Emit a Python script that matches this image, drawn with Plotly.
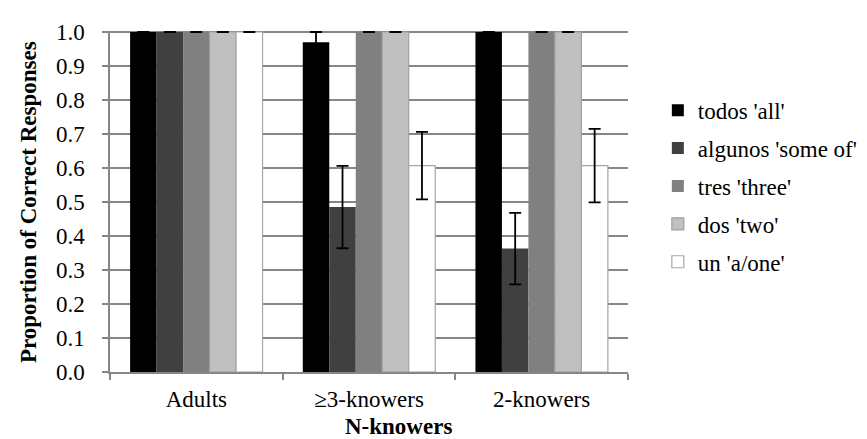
import plotly.graph_objects as go

categories = ["Adults", "\u22653-knowers", "2-knowers"]
series_names = ["todos 'all'", "algunos 'some of'", "tres 'three'", "dos 'two'", "un 'a/one'"]
todos = [1.0, 0.97, 1.0]
algunos = [1.0, 0.485, 0.363]
tres = [1.0, 1.0, 1.0]
dos = [1.0, 1.0, 1.0]
un = [1.0, 0.607, 0.607]
todos_err = [0.0, 0.03, 0.0]
algunos_err = [0.0, 0.121, 0.105]
tres_err = [0.0, 0.0, 0.0]
dos_err = [0.0, 0.0, 0.0]
un_err = [0.0, 0.099, 0.108]
y_ticks = [0.0, 0.1, 0.2, 0.3, 0.4, 0.5, 0.6, 0.7, 0.8, 0.9, 1.0]

values = [todos, algunos, tres, dos, un]
errors = [todos_err, algunos_err, tres_err, dos_err, un_err]
fills = ["#000000", "#404040", "#808080", "#C0C0C0", "#FFFFFF"]
outlines = ["#000000", "#404040", "#808080", "#A0A0A0", "#A6A6A6"]

FONT = "Liberation Serif, Times New Roman, serif"
FS = 23
GRID = "#868686"

fig = go.Figure()
for i, name in enumerate(series_names):
    fig.add_trace(go.Bar(
        name=name, x=categories, y=values[i],
        marker=dict(color=fills[i], line=dict(color=outlines[i], width=1.2 if i >= 3 else 0)),
        error_y=dict(type="data", array=errors[i], visible=True, color="#000000",
                     thickness=1.8, width=6),
        legendgroup=name,
    ))

L, R, T, B = 102, 227, 19, 75
pw = 867 - L - R
ph = 439 - T - B

fig.update_layout(
    width=867, height=439,
    margin=dict(l=L, r=R, t=T, b=B),
    paper_bgcolor="white", plot_bgcolor="white",
    barmode="group", bargap=0.233, bargroupgap=0,
    font=dict(family=FONT, size=FS, color="#000000"),
    showlegend=True,
    legend=dict(x=1 + (671 - L - pw) / pw, y=(364 - 176) / ph, xanchor="left", yanchor="middle",
                font=dict(family=FONT, size=FS, color="#000000"), traceorder="grouped",
                tracegroupgap=5, bgcolor="rgba(0,0,0,0)"),
    xaxis=dict(
        type="category", tickson="boundaries", ticks="outside", ticklen=6, tickcolor=GRID,
        tickwidth=1.5,
        showline=True, linecolor=GRID, linewidth=1.5, showgrid=False,
        tickfont=dict(family=FONT, size=FS, color="#000000"), ticklabelstandoff=6,
    ),
    yaxis=dict(
        range=[0, 1.003], tickvals=y_ticks, ticktext=[f"{v:.1f}" for v in y_ticks],
        ticks="outside", ticklen=6, tickcolor=GRID, tickwidth=1.5,
        showline=True, linecolor=GRID, linewidth=1.5,
        showgrid=True, gridcolor=GRID, gridwidth=1.5, zeroline=False,
        tickfont=dict(family=FONT, size=FS, color="#000000"), ticklabelstandoff=13,
    ),
    annotations=[
        dict(text="<b>Proportion of Correct Responses</b>", xref="paper", yref="paper",
             x=(18 - L) / pw, y=(364 - 192) / ph, textangle=-90, showarrow=False,
             xanchor="center", yanchor="middle",
             font=dict(family=FONT, size=FS, color="#000000")),
        dict(text="<b>N-knowers</b>", xref="paper", yref="paper",
             x=(402 - L) / pw, y=(364 - 419) / ph, showarrow=False,
             xanchor="center", yanchor="middle",
             font=dict(family=FONT, size=FS, color="#000000")),
    ],
)

fig.write_html("out.html")
